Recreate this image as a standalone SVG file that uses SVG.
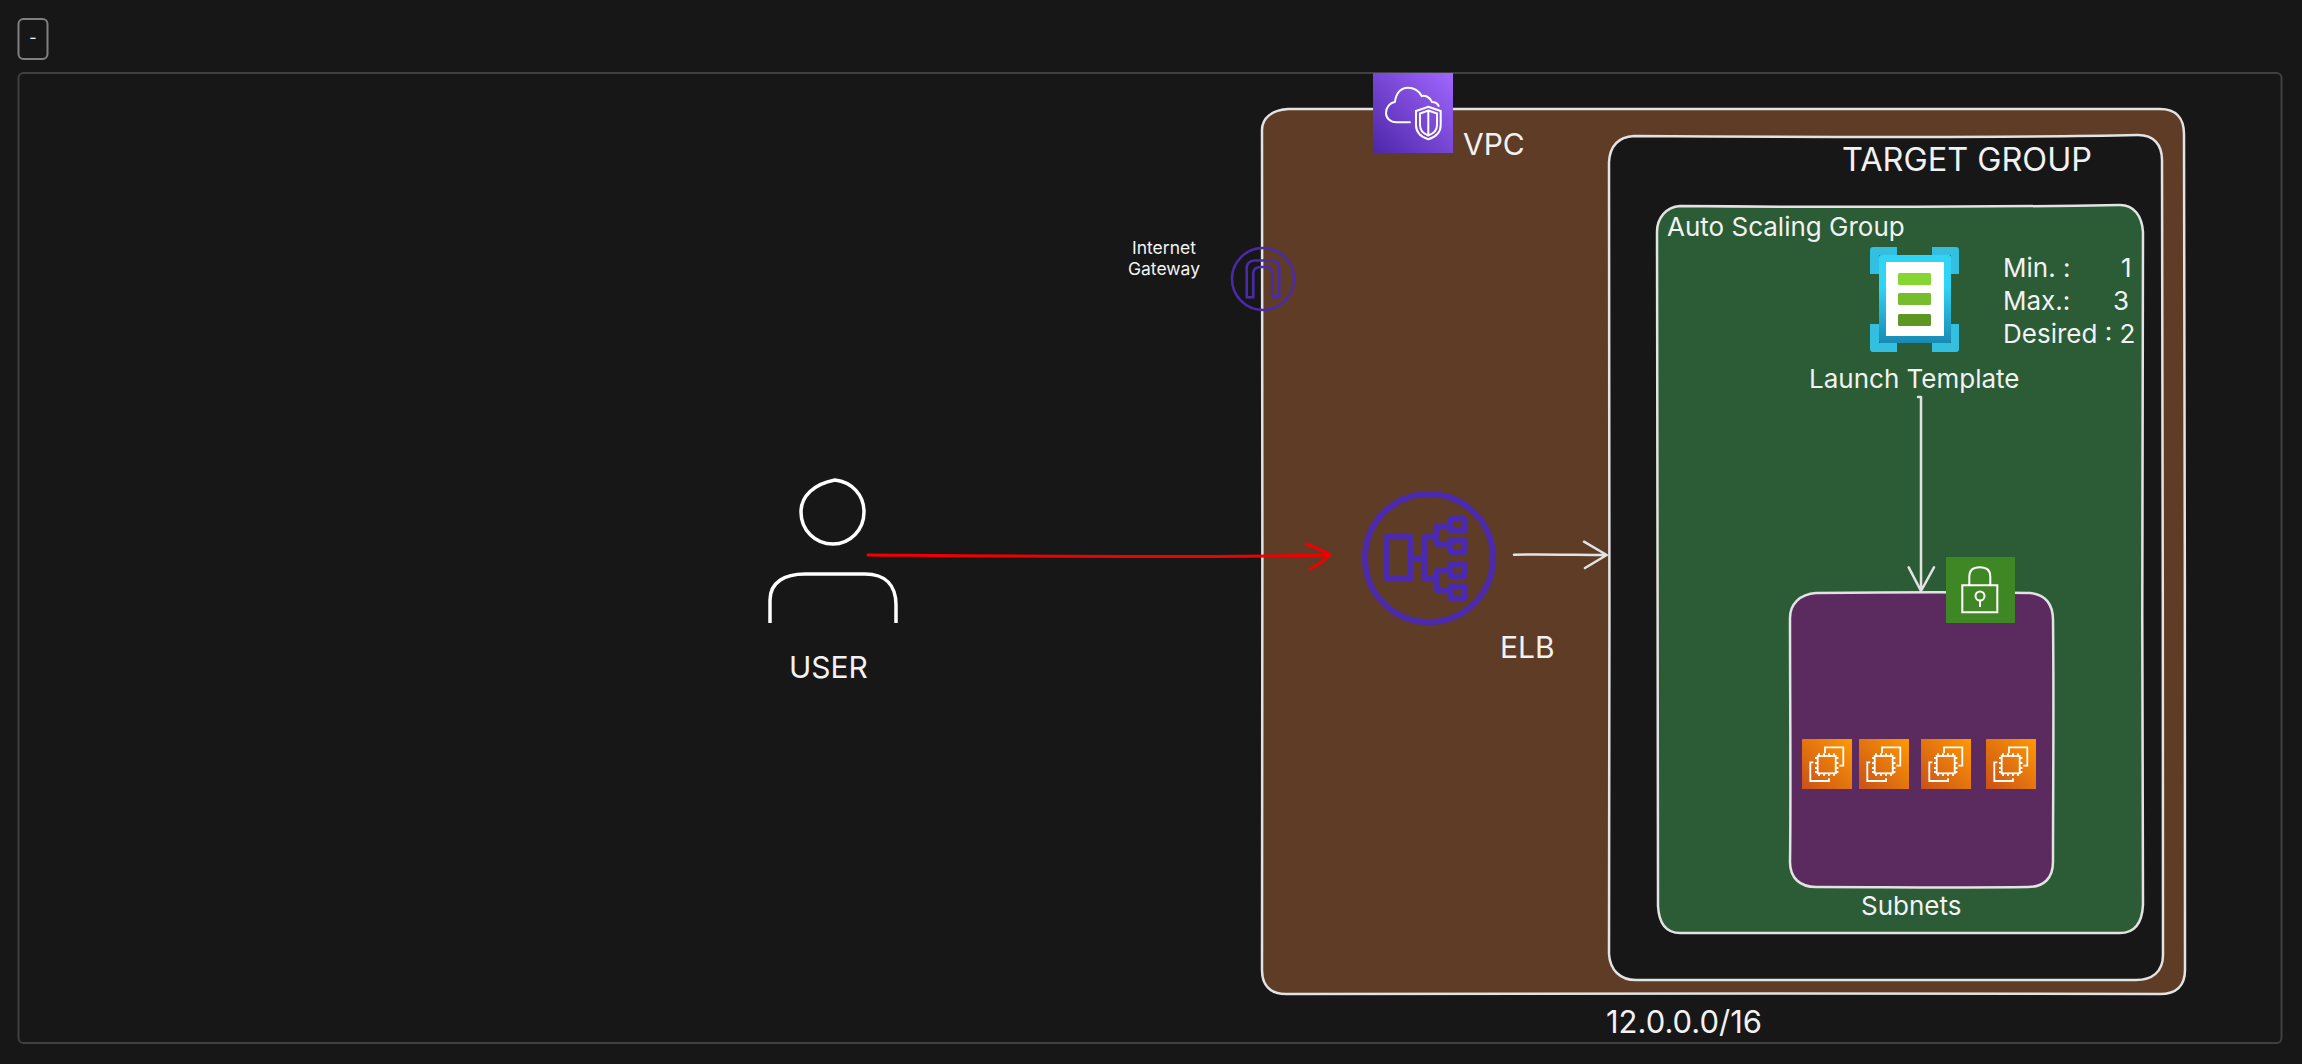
<svg xmlns="http://www.w3.org/2000/svg" xmlns:xlink="http://www.w3.org/1999/xlink" width="2302" height="1064" viewBox="0 0 2302 1064">
<style>
text{font-family:Inter,"Liberation Sans",sans-serif;fill:#f2f2f2}
.t30{font-size:30px}.t26{font-size:26px}
.edge{fill:none;stroke:#e3e3e3;stroke-width:2.5;stroke-linecap:round;stroke-linejoin:round}
.box{stroke:#e3e3e3;stroke-width:2.5;stroke-linejoin:round}
.purple{fill:none;stroke:#4b2aad}
.ico{fill:none;stroke:#fff;stroke-width:2}
.ec{fill:none;stroke:#fff;stroke-width:1.8}
</style>
<defs>
<linearGradient id="gv" x1="0" y1="1" x2="1" y2="0"><stop offset="0" stop-color="#4d27a8"/><stop offset="1" stop-color="#a166ff"/></linearGradient>
<linearGradient id="ge" x1="0" y1="1" x2="1" y2="0"><stop offset="0" stop-color="#c8511b"/><stop offset="1" stop-color="#ff9900"/></linearGradient>
<linearGradient id="gt" x1="0" y1="0" x2="0" y2="1"><stop offset="0" stop-color="#32d4f5"/><stop offset=".35" stop-color="#32d4f5"/><stop offset="1" stop-color="#198ab3"/></linearGradient>
<symbol id="ec2" viewBox="0 0 50 50" width="50" height="50">
<rect width="50" height="50" fill="url(#ge)"/>
<path class="ec" d="M23 14.300V8.300H41.300V26.700H37.300M11.300 23.300H8.300V42H27V39.300"/>
<rect class="ec" x="15.700" y="17" width="18" height="17.300"/>
<path class="ec" d="M17 14.300V17M22 14.300V17M27 14.300V17M32 14.300V17M17 34.300V37M22 34.300V37M27 34.300V37M32 34.300V37M13 19H15.700M13 24H15.700M13 29H15.700M13 33H15.700M33.700 19H36.400M33.700 24H36.400M33.700 29H36.400M33.700 33H36.400"/>
</symbol>
</defs>
<rect width="2302" height="1064" fill="#171717"/>
<g id="toggle"><rect x="18.500" y="19" width="29" height="40" rx="5" fill="none" stroke="#808080" stroke-width="2"/><text x="33" y="43" font-size="16" text-anchor="middle">-</text></g>
<g id="frame"><rect x="18.500" y="73" width="2263" height="970" rx="5" fill="none" stroke="#3e4042" stroke-width="2"/></g>
<g id="vpc">
<path class="box" fill="#5f3c26" d="M1288 109C1500 108 1900 110 2160 109C2176 109 2184 118 2184 134C2186 400 2184 700 2185 970C2185 986 2176 994 2160 994C1900 993 1500 994 1286 994C1270 994 1262 985 1262 970C1263 700 1262 400 1262 130C1262 118 1272 110 1288 109Z"/>
<rect x="1373" y="73" width="80" height="80" fill="url(#gv)"/>
<path class="ico" d="M1410.700 122.300H1396.700C1390 122.300 1386 118 1386 113C1386 107 1390 103 1395 101.700C1396 93 1401 87.700 1408 87.700C1414 87.700 1419 91 1421.700 96C1425 95 1430 97 1432 102C1435 102 1438 104 1439 106.700"/>
<path class="ico" d="M1428.300 106.700L1440.700 111V125C1440.700 132 1436 137 1428.300 139.300C1421 137 1416 132 1416 125V111Z"/>
<path class="ico" stroke-width="1.500" d="M1428.300 110.500L1437 113.500V125C1437 130 1434 133.500 1428.300 135.500C1423 133.500 1420 130 1420 125V113.500ZM1428.300 110.500V135.500"/>
<text class="t30" x="1463" y="155">VPC</text>
<text x="1606" y="1033" font-size="31">12.0.0.0/16</text>
</g>
<g id="target-group">
<path class="box" fill="#171717" d="M1634 136C1800 137 2000 138 2138 135C2154 135 2162 145 2162 160C2164 400 2162 700 2163 955C2163 972 2152 980 2136 980C2000 980 1800 980 1636 980C1620 980 1610 970 1609 954C1610 700 1609 400 1609 162C1610 146 1618 137 1634 136Z"/>
<text x="1842" y="171" font-size="32" textLength="250" lengthAdjust="spacingAndGlyphs">TARGET GROUP</text>
</g>
<g id="asg">
<path class="box" fill="#2b5c35" d="M1680 206C1800 207 2000 207 2120 205C2134 205 2142 216 2143 232C2142 400 2142 700 2143 905C2142 924 2134 933 2120 933C2000 933 1800 933 1680 933C1666 933 1659 924 1658 906C1658 700 1657 400 1657 232C1657 218 1666 207 1680 206Z"/>
<text class="t26" x="1667" y="236">Auto Scaling Group</text>
<text class="t26"><tspan x="2003" y="277">Min. :</tspan><tspan x="2121" y="277">1</tspan><tspan x="2003" y="310">Max.:</tspan><tspan x="2113" y="310">3</tspan><tspan x="2003" y="343">Desired : 2</tspan></text>
</g>
<g id="launch-template">
<path fill="#32bfe0" d="M1873 247H1897V255H1879V274H1870V250Q1870 247 1873 247ZM1935 247H1956Q1959 247 1959 250V274H1951V255H1932V247ZM1870 324H1879V343H1897V352H1873Q1870 352 1870 349ZM1951 324H1959V349Q1959 352 1956 352H1932V343H1951Z"/>
<rect x="1879" y="255" width="72" height="88" rx="2" fill="url(#gt)"/>
<rect x="1886" y="262" width="58" height="74" fill="#fff"/>
<rect x="1898" y="273" width="33" height="12" rx="1.500" fill="#86d633"/>
<rect x="1898" y="293" width="33" height="12" rx="1.500" fill="#76bc2d"/>
<rect x="1898" y="314" width="33" height="12" rx="1.500" fill="#5e9624"/>
<text class="t26" x="1809" y="388">Launch Template</text>
</g>
<g id="subnets">
<path class="box" fill="#5b2b60" d="M1816 593C1900 592 1980 592 2030 593C2045 594 2053 604 2053 620C2054 700 2053 800 2053 862C2053 878 2044 887 2028 887C1960 888 1880 887 1816 887C1800 887 1790 878 1790 862C1791 800 1790 700 1790 618C1790 604 1800 594 1816 593Z"/>
<text class="t26" x="1861" y="915">Subnets</text>
<rect x="1946" y="557" width="69" height="66" fill="#3f8624"/>
<path class="ico" d="M1962.300 585.300H1997.300V612.300H1962.300ZM1969.300 585.300V576.700C1969.300 570 1974 567.300 1979.800 567.300C1986 567.300 1990.300 570 1990.300 576.700V585.300"/>
<circle class="ico" cx="1980" cy="596" r="4.500"/><path class="ico" d="M1980 600.500V607"/>
<use xlink:href="#ec2" href="#ec2" x="1802" y="739"/>
<use xlink:href="#ec2" href="#ec2" x="1859" y="739"/>
<use xlink:href="#ec2" href="#ec2" x="1921" y="739"/>
<use xlink:href="#ec2" href="#ec2" x="1986" y="739"/>
</g>
<g id="internet-gateway">
<circle class="purple" stroke-width="2.500" cx="1263" cy="279" r="31"/>
<path class="purple" stroke-width="2.500" d="M1246.700 297.300V268C1246.700 263 1250 261 1254 260.500H1272C1276 261 1279.300 263 1279.300 268V297.300H1272.700V273C1272.700 269 1270 267.500 1266 267H1260C1256 267.500 1253.300 269 1253.300 273V297.300Z"/>
<text font-size="17.500" text-anchor="middle"><tspan x="1164" y="254">Internet</tspan><tspan x="1164" y="275">Gateway</tspan></text>
</g>
<g id="elb">
<circle class="purple" stroke-width="6" cx="1429" cy="558" r="64"/>
<g class="purple" stroke-width="6" stroke-linejoin="round"><rect x="1387" y="537" width="23" height="42"/><path d="M1410 558H1425M1448 526H1437V544H1448M1448 571H1437V590H1448M1437 537H1425V579H1437"/>
<rect x="1451" y="519" width="13" height="12"/><rect x="1451" y="540" width="13" height="12"/><rect x="1451" y="564" width="13" height="12"/><rect x="1451" y="586" width="13" height="12"/></g>
<text class="t30" x="1500" y="658">ELB</text>
</g>
<g id="user">
<path fill="none" stroke="#fff" stroke-width="3.500" stroke-linecap="round" d="M835 480C852 482 864 495 864 512C864 530 850 544 833 544C815 544 801 530 801 512C801 496 814 484 835 480Z"/>
<path fill="none" stroke="#fff" stroke-width="3.500" d="M770 623V600C770 582 785 574 805 574H865C885 574 896 585 896 605V623"/>
<text class="t30" x="789" y="678">USER</text>
</g>
<g id="connectors">
<path d="M868 555C1000 556 1200 558 1330 555M1306 544C1315 547 1322 550 1330 555C1324 561 1318 565 1310 569" fill="none" stroke="#f00000" stroke-width="3" stroke-linecap="round" stroke-linejoin="round"/>
<path class="edge" d="M1514 554.700C1540 554 1580 555 1606.700 555M1584 541.700L1606.700 555L1585 568"/>
<path class="edge" d="M1918 397H1921V591M1908.700 567.300L1921 591L1934 567.300"/>
</g>
</svg>
